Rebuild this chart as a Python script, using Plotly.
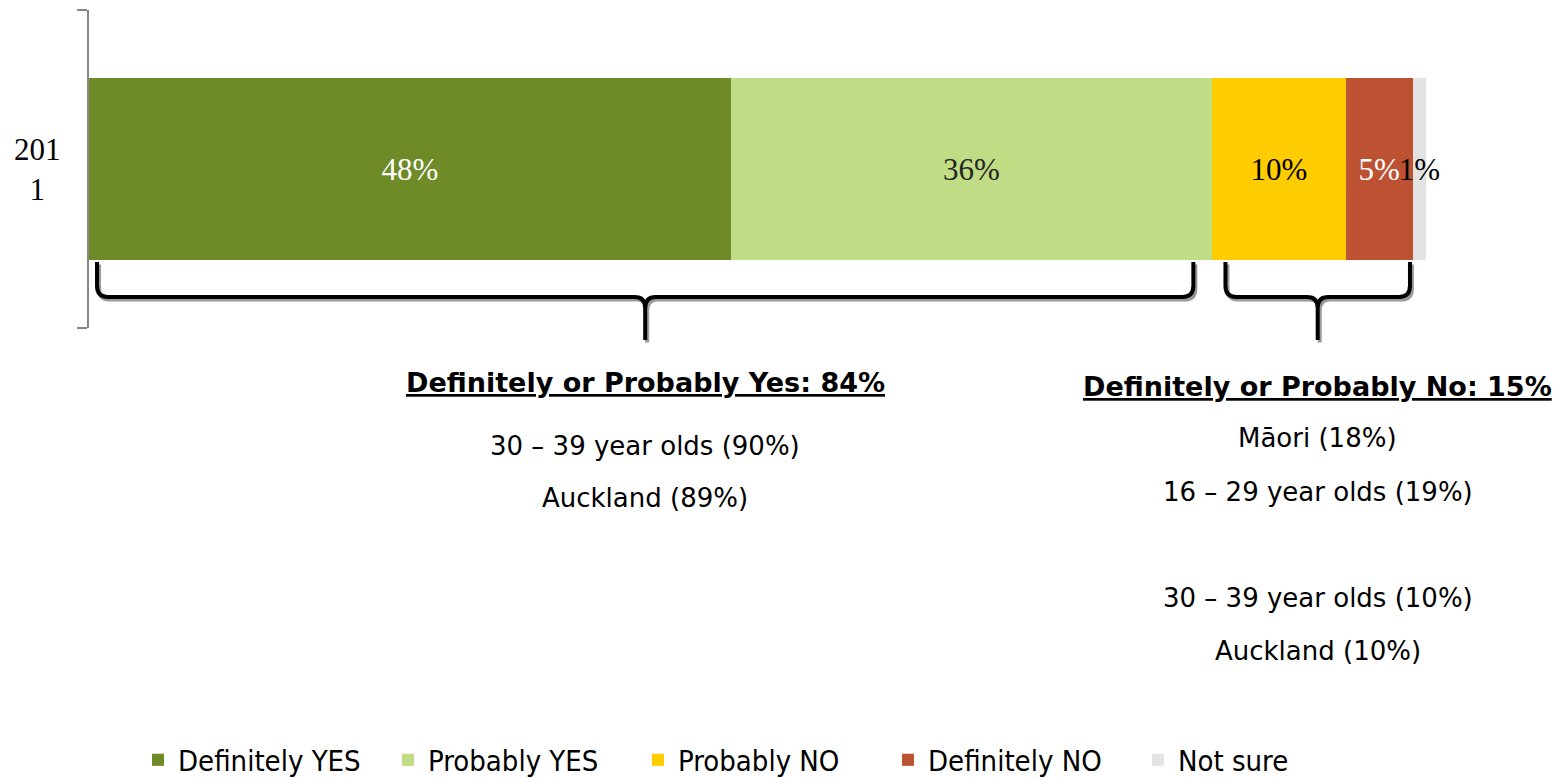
import plotly.graph_objects as go

# survey data (2011)
years = ["2011"]
year_label = "201<br>1"
responses = ["Definitely YES", "Probably YES", "Probably NO", "Definitely NO", "Not sure"]
shares = [48, 36, 10, 5, 1]
colors = ["#6E8B28", "#C0DC84", "#FFCC00", "#BD5233", "#E3E3E3"]
label_colors = ["white", "#262626", "black", "white", "black"]

yes_total = 84
no_total = 15
yes_notes = ["30 – 39 year olds (90%)", "Auckland (89%)"]
no_notes = ["Māori (18%)", "16 – 29 year olds (19%)", "", "30 – 39 year olds (10%)", "Auckland (10%)"]

# page is 1562x778 but the html body adds an 8px margin
PAGE_W, PAGE_H, OFF = 1562, 778, 8
W, H = PAGE_W - OFF, PAGE_H - OFF
# plot area in page pixels: x 89..1426, y 10..328
L, R, T, B = 89 - OFF, PAGE_W - 1426, 10 - OFF, PAGE_H - 328
plot_h = 328 - 10
plot_w = 1426 - 89


def py(p):
    # page pixel row -> paper y
    return (328 - p) / plot_h


fig = go.Figure()
for name, val, col, lc in zip(responses, shares, colors, label_colors):
    fig.add_trace(go.Bar(
        y=years, x=[val], name=name, orientation="h",
        marker=dict(color=col, line=dict(width=0)),
        text=[f"{val}%"], textposition="inside", insidetextanchor="middle",
        constraintext="none", textangle=0, cliponaxis=False,
        textfont=dict(family="Liberation Serif, DejaVu Serif, serif", size=31, color=lc),
    ))


def brace(x0, x1, shadow=False):
    xm = (x0 + x1) / 2
    yt, yh, yb = py(262), py(297), py(340)
    rx, ry = 0.8, 0.035
    if shadow:
        x0, x1, xm = x0 + 0.15, x1 + 0.15, xm + 0.15
        yt, yh, yb = yt - 0.008, yh - 0.008, yb - 0.008
    return (f"M {x0},{yt} L {x0},{yh + ry} Q {x0},{yh} {x0 + rx},{yh} "
            f"L {xm - rx},{yh} Q {xm},{yh} {xm},{yh - ry} L {xm},{yb} "
            f"M {x1},{yt} L {x1},{yh + ry} Q {x1},{yh} {x1 - rx},{yh} "
            f"L {xm + rx},{yh} Q {xm},{yh} {xm},{yh - ry}")


yes_end = shares[0] + shares[1]
no_end = yes_end + shares[2] + shares[3]
spans = [(0.6, yes_end - 1.4), (yes_end + 1.0, no_end - 0.2)]
for a, b in spans:
    fig.add_shape(type="path", xref="x", yref="paper", path=brace(a, b, True),
                  line=dict(color="#9A9A9A", width=4))
    fig.add_shape(type="path", xref="x", yref="paper", path=brace(a, b),
                  line=dict(color="black", width=4))

ann_font = "DejaVu Sans, Lato, sans-serif"
yes_mid = sum(spans[0]) / 2
no_mid = sum(spans[1]) / 2


def note(x, p, txt, size):
    fig.add_annotation(x=x, y=py(p), xref="x", yref="paper", showarrow=False,
                       xanchor="center", yanchor="middle", text=txt,
                       font=dict(family=ann_font, size=size, color="black"))


note(yes_mid, 382, f"<b><u>Definitely or Probably Yes: {yes_total}%</u></b>", 27)
note(no_mid, 386, f"<b><u>Definitely or Probably No: {no_total}%</u></b>", 27)
for txt, p in zip(yes_notes, [446, 498]):
    note(yes_mid, p, txt, 26)
for txt, p in zip(no_notes, [438, 492, 545, 598, 651]):
    if txt:
        note(no_mid, p, txt, 26)

# category label, centred like the original
fig.add_annotation(x=(37 - 89) / plot_w, y=0, xref="paper", yref="y",
                   showarrow=False, xanchor="center", yanchor="middle", align="center",
                   text=year_label,
                   font=dict(family="Liberation Serif, DejaVu Serif, serif", size=31, color="black"))

fig.update_layout(
    width=W, height=H,
    barmode="stack", bargap=0.43,
    plot_bgcolor="white", paper_bgcolor="white",
    margin=dict(l=L, r=R, t=T, b=B, pad=0, autoexpand=False),
    xaxis=dict(range=[0, 100], visible=False, automargin=False),
    yaxis=dict(
        type="category", range=[-0.5, 0.5],
        tickvals=years, ticktext=[""], tickson="boundaries", automargin=False,
        ticks="outside", ticklen=10, tickwidth=2, tickcolor="#868686",
        showline=True, linecolor="#868686", linewidth=2, showgrid=False,
    ),
    showlegend=True,
    legend=dict(
        orientation="h", xref="container", yref="container",
        x=(763 - OFF) / W, xanchor="center", y=(PAGE_H - 760) / H, yanchor="middle",
        entrywidth=205, traceorder="normal",
        font=dict(family="Liberation Sans Narrow, DejaVu Sans Condensed, sans-serif",
                  size=29, color="black"),
    ),
)

fig.write_html("out.html")
